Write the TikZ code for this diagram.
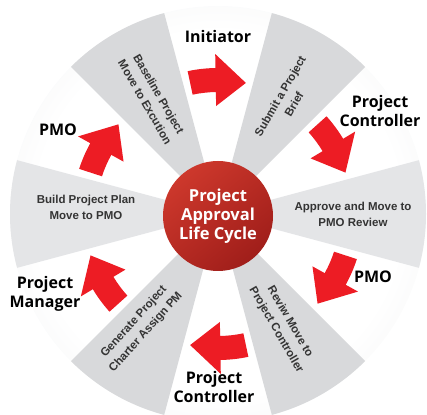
\documentclass[tikz,border=0pt]{standalone}
\usepackage{fontspec}
\setmainfont{Open Sans}
\newfontfamily\stagefont{Liberation Sans}
\usepackage{tikz}

\definecolor{arrowred}{RGB}{237,28,36}
\definecolor{wedgegray}{RGB}{216,217,219}
\definecolor{wedgepale}{RGB}{228,229,231}
\definecolor{rimgray}{RGB}{224,225,227}
\definecolor{hublight}{RGB}{205,56,44}
\definecolor{hubdark}{RGB}{160,30,26}
\definecolor{stagegray}{RGB}{52,52,52}

\pgfdeclareradialshading{discshade}{\pgfpointorigin}{color(0bp)=(white); color(22bp)=(white); color(40bp)=(rimgray!70!white); color(50bp)=(rimgray)}

\begin{document}
\begin{tikzpicture}[x=1pt,y=1pt,
  role/.style={font=\bfseries\fontsize{16}{19}\selectfont, align=center, text=black},
  stage/.style={font=\stagefont\bfseries\fontsize{11.5}{16}\selectfont, align=center, text=stagegray},
  hub/.style={circle, minimum size=110pt, inner sep=0pt, top color=hublight, bottom color=hubdark, shading angle=40,
    text=white, align=center, font=\bfseries\fontsize{16.5}{19}\selectfont}]

\useasboundingbox (0,0) rectangle (427,414);
\clip (0,0) rectangle (427,414);
\coordinate (C) at (218,200);

% disc and wedges
\shade[shading=discshade] (C) circle (208);
\begin{scope}[shift={(C)}]
\foreach \a in {60,120,240,300}
  \fill[wedgegray] (0,0) -- ({\a-15}:208) arc[start angle=\a-15, end angle=\a+15, radius=208] -- cycle;
\foreach \a in {0,180}
  \fill[wedgepale] (0,0) -- ({\a-15}:208) arc[start angle=\a-15, end angle=\a+15, radius=208] -- cycle;

% curved arrows, clockwise
\foreach \a in {90,30,-30,-90,-150,150}
  \fill[arrowred] ({\a+12}:146) arc[start angle=\a+12, end angle=\a+1, radius=146]
    -- ({\a+1}:160) -- ({\a-12}:134) -- ({\a+1}:108) -- ({\a+1}:122)
    arc[start angle=\a+1, end angle=\a+12, radius=122] -- cycle;
\end{scope}

\node[hub] (hub) at (218,198) {Project\\Approval\\Life Cycle};

\node[role] (init) at (218,377) {Initiator};
\node[role] (ctrl1) at (380,303) {Project\\Controller};
\node[role] (pmo1) at (373,137) {PMO};
\node[role] (ctrl2) at (214,27) {Project\\Controller};
\node[role] (mgr) at (45,120) {Project\\Manager};
\node[role] (pmo2) at (58,284) {PMO};

\node[stage, rotate=60] (submit) at (287,314) {Submit a Project\\Brief};
\node[stage] (approve) at (353,200) {Approve and Move to\\PMO Review};
\node[stage, rotate=-60] (review) at (283,88) {Reviw Move to\\Project Controller};
\node[stage, rotate=48] (charter) at (140,87) {Generate Project\\Charter Assign PM};
\node[stage] (plan) at (86,207) {Build Project Plan\\Move to PMO};
\node[stage, rotate=-60] (baseline) at (152,316) {Baseline Project\\Move to Excution};

\end{tikzpicture}
\end{document}
